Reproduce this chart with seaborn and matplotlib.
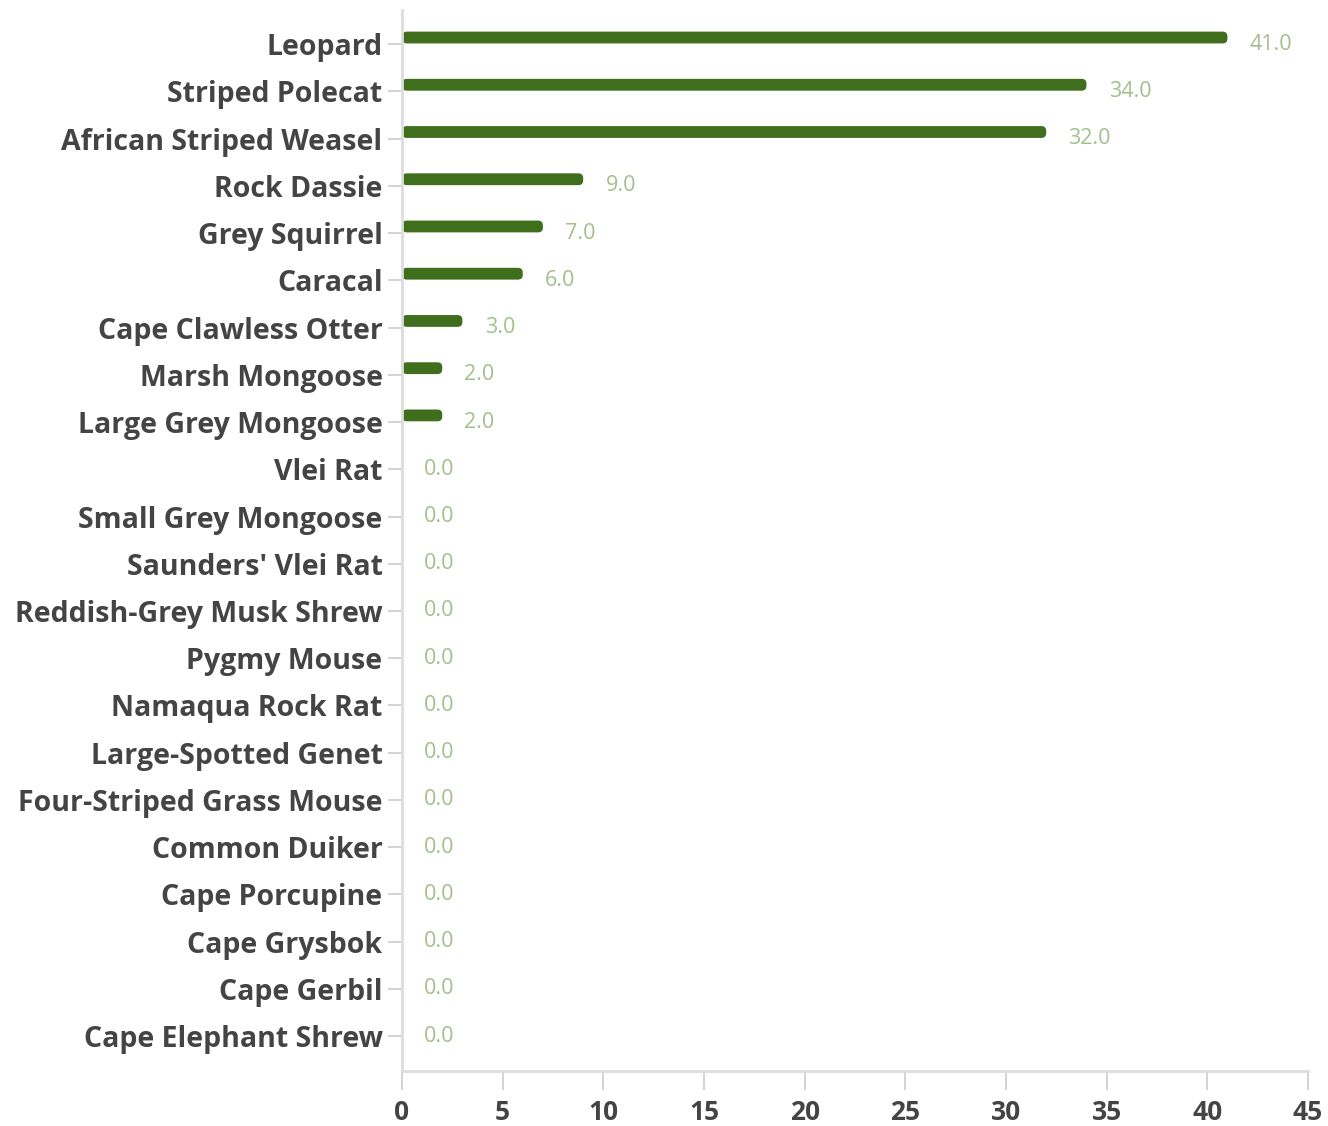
import pandas as pd
import matplotlib.pyplot as plt
import seaborn as sns
from matplotlib.patches import FancyBboxPatch

species = [
    "Leopard", "Striped Polecat", "African Striped Weasel", "Rock Dassie",
    "Grey Squirrel", "Caracal", "Cape Clawless Otter", "Marsh Mongoose",
    "Large Grey Mongoose", "Vlei Rat", "Small Grey Mongoose", "Saunders' Vlei Rat",
    "Reddish-Grey Musk Shrew", "Pygmy Mouse", "Namaqua Rock Rat",
    "Large-Spotted Genet", "Four-Striped Grass Mouse", "Common Duiker",
    "Cape Porcupine", "Cape Grysbok", "Cape Gerbil", "Cape Elephant Shrew",
]
counts = [41, 34, 32, 9, 7, 6, 3, 2, 2, 0, 0, 0, 0, 0, 0, 0, 0, 0, 0, 0, 0, 0]
x_ticks = [0, 5, 10, 15, 20, 25, 30, 35, 40, 45]

df = pd.DataFrame({"species": species, "count": counts})

sns.set_style("white")
plt.rcParams['font.family'] = ['Open Sans', 'DejaVu Sans']

fig = plt.figure(figsize=(13.28, 11.26), dpi=100)
ax = fig.add_axes([0.3027, 0.0488, 0.9849 - 0.3027, 0.991 - 0.0488])

sns.barplot(data=df, x="count", y="species", orient="h", color="#3f6e1c",
            saturation=1, width=0.25, ax=ax)

ax.set_xlim(0, 45)
ax.set_ylim(len(species) - 1 + 0.74, -0.72)

# rounded bars, sitting a little above the tick line
bbox = ax.get_window_extent()
aspect = (bbox.width / 45) / (bbox.height / (len(species) + 0.46))
for p in list(ax.patches):
    w, h = p.get_width(), p.get_height()
    if w <= 0:
        p.remove()
        continue
    y = p.get_y() - 0.14
    fb = FancyBboxPatch((p.get_x(), y), w, h,
                        boxstyle="round,pad=0,rounding_size=0.24",
                        mutation_aspect=aspect,
                        facecolor=p.get_facecolor(), edgecolor="none")
    p.remove()
    ax.add_patch(fb)

for i, v in enumerate(counts):
    ax.annotate(f"{v:.1f}", xy=(v, i), xytext=(16, 0), textcoords="offset points",
                va="center", ha="left", fontsize=15.5, color="#a3bf8c")

ax.set_xticks(x_ticks)
ax.set_xlabel("")
ax.set_ylabel("")

for s in ["top", "right"]:
    ax.spines[s].set_visible(False)
for s in ["left", "bottom"]:
    ax.spines[s].set_color("#dddddd")
    ax.spines[s].set_linewidth(2)

ax.tick_params(axis="y", length=10, width=1.2, color="#cccccc", labelsize=20.5,
               labelcolor="#444444", pad=4, left=True)
ax.tick_params(axis="x", length=14, width=1.2, color="#cccccc", labelsize=19,
               labelcolor="#444444", pad=6, bottom=True)
for lab in ax.get_yticklabels() + ax.get_xticklabels():
    lab.set_fontweight("bold")

fig.savefig("out.png", dpi=100)
